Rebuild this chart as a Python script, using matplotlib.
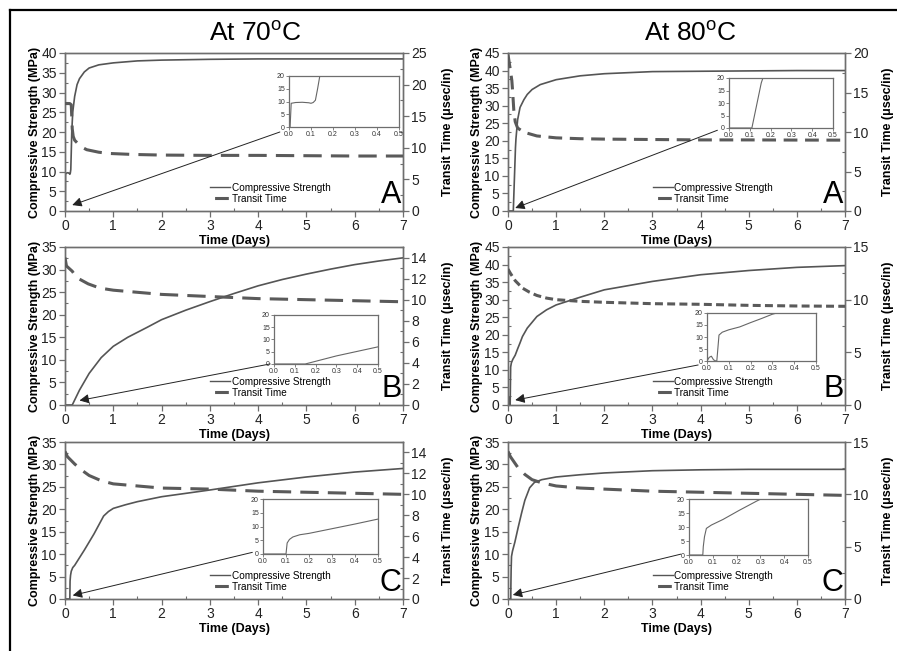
import matplotlib
matplotlib.use("Agg")
import matplotlib.pyplot as plt
from matplotlib.lines import Line2D
from matplotlib.ticker import MultipleLocator, FormatStrFormatter

plt.rcParams['font.family'] = ['Liberation Sans', 'DejaVu Sans']
plt.rcParams['mathtext.fontset'] = 'custom'
plt.rcParams['mathtext.rm'] = 'Liberation Sans'

# ---------------- data ----------------
titles = ["At 70$^{\\rm o}$C", "At 80$^{\\rm o}$C"]
letters = ["A", "B", "C"]
legend_labels = ["Compressive Strength", "Transit Time"]
xlabel = "Time (Days)"
ylabel_left = "Compressive Strength (MPa)"
ylabel_right = "Transit Time (\u03bcsec/in)"

# 70C - A
t_cs_70A = [0, 0.005, 0.01, 0.03, 0.06, 0.09, 0.1, 0.11, 0.12, 0.13, 0.14, 0.16, 0.2, 0.25, 0.3,
            0.4, 0.5, 0.7, 1.0, 1.5, 2, 3, 4, 5, 6, 7]
cs_70A = [0, 0, 9.3, 9.6, 9.7, 9.5, 9.3, 9.6, 10.5, 15, 20, 25, 29, 32, 33.5,
          35.2, 36.2, 37.0, 37.5, 38.0, 38.2, 38.4, 38.5, 38.5, 38.5, 38.5]
t_tt_70A = [0, 0.05, 0.1, 0.13, 0.15, 0.17, 0.2, 0.25, 0.35, 0.45, 0.7, 0.93, 1.4, 2, 3, 4, 5, 6, 7]
tt_70A = [17.0, 17.0, 17.0, 16.8, 13.0, 11.8, 11.2, 10.8, 10.1, 9.7, 9.3, 9.1, 8.95, 8.85, 8.8, 8.8, 8.75, 8.7, 8.7]

# 80C - A
t_cs_80A = [0, 0.11, 0.115, 0.13, 0.145, 0.155, 0.165, 0.2, 0.25, 0.33, 0.4, 0.5, 0.67, 1.0, 1.5,
            2, 3, 4, 5, 6, 7]
cs_80A = [0, 0, 2, 8, 14, 18, 20.5, 26, 29.5, 31.7, 33.2, 34.6, 36.0, 37.4, 38.5,
          39.1, 39.7, 39.8, 39.9, 40.0, 40.0]
t_tt_80A = [0, 0.02, 0.05, 0.08, 0.1, 0.12, 0.15, 0.2, 0.3, 0.4, 0.6, 1, 1.5, 2, 3, 4, 5, 6, 7]
tt_80A = [19.8, 19.0, 17.8, 16.5, 14.8, 12.8, 11.3, 10.5, 10.1, 9.85, 9.5, 9.26, 9.15, 9.1, 9.05, 9.0, 9.0, 8.98, 8.97]

# 70C - B
t_cs_70B = [0, 0.15, 0.3, 0.5, 0.75, 1, 1.3, 1.7, 2, 2.5, 3, 3.5, 4, 4.5, 5, 5.5, 6, 6.5, 7]
cs_70B = [0, 0, 3.3, 7.0, 10.5, 13, 15, 17.2, 18.9, 21, 22.9, 24.7, 26.4, 27.8, 29.0, 30.1, 31.1, 31.9, 32.6]
t_tt_70B = [0, 0.03, 0.15, 0.24, 0.48, 0.72, 1, 1.5, 2, 3, 4, 5, 6, 7]
tt_70B = [14.0, 13.2, 12.7, 12.1, 11.5, 11.1, 10.9, 10.7, 10.5, 10.3, 10.1, 10.0, 9.9, 9.8]

# 80C - B
t_cs_80B = [0, 0.01, 0.02, 0.03, 0.04, 0.045, 0.055, 0.07, 0.1, 0.15, 0.2, 0.25, 0.3, 0.4, 0.6, 0.8,
            1, 1.5, 2, 3, 4, 5, 6, 7]
cs_80B = [0, 1.5, 2, 0.5, 0, 0, 10.8, 12, 13, 14.2, 16, 17.7, 19.5, 21.9, 25.2, 27.1,
          28.5, 30.7, 32.8, 35.2, 37.1, 38.3, 39.2, 39.7]
t_tt_80B = [0, 0.05, 0.15, 0.3, 0.45, 0.6, 0.8, 1, 1.5, 2, 3, 4, 5, 6, 7]
tt_80B = [12.9, 12.5, 11.8, 11.1, 10.7, 10.4, 10.15, 10.0, 9.84, 9.75, 9.62, 9.56, 9.46, 9.4, 9.37]

# 70C - C
t_cs_70C = [0, 0.1, 0.105, 0.115, 0.13, 0.16, 0.2, 0.3, 0.4, 0.5, 0.6, 0.7, 0.8, 0.9, 1.0, 1.25,
            1.5, 2, 3, 4, 5, 6, 7]
cs_70C = [0, 0, 4, 5.3, 6.2, 7, 7.5, 9.2, 10.9, 12.7, 14.5, 16.5, 18.5, 19.5, 20.2, 21.0,
          21.7, 22.8, 24.3, 25.9, 27.2, 28.3, 29.1]
t_tt_70C = [0, 0.05, 0.2, 0.35, 0.5, 0.75, 1, 1.5, 2, 3, 4, 5, 6, 7]
tt_70C = [14.1, 13.6, 12.9, 12.3, 11.8, 11.3, 11.0, 10.8, 10.6, 10.5, 10.3, 10.2, 10.1, 10.0]

# 80C - C
t_cs_80C = [0, 0.058, 0.06, 0.065, 0.073, 0.094, 0.143, 0.21, 0.283, 0.35, 0.45, 0.55, 0.7, 1,
            1.5, 2, 3, 4, 5, 6, 7]
cs_80C = [0, 0, 3, 6.5, 9.5, 10.7, 12.7, 15.9, 19.2, 22, 24.8, 26.0, 26.6, 27.2,
          27.7, 28.1, 28.6, 28.8, 28.9, 28.9, 28.9]
t_tt_80C = [0, 0.05, 0.2, 0.35, 0.5, 0.7, 1, 1.5, 2, 3, 4, 5, 6, 7]
tt_80C = [14.1, 13.6, 12.6, 11.9, 11.4, 11.1, 10.8, 10.6, 10.5, 10.3, 10.2, 10.1, 10.0, 9.9]

# ---------------- style ----------------
W, H = 897, 651
CS_COLOR = '#555555'
TT_COLOR = '#5a5a5a'
SPINE = '#6e6e6e'


def fr(x0, y0, x1, y1):
    """pixel box -> figure fraction rect"""
    return [x0 / W, 1 - y1 / H, (x1 - x0) / W, (y1 - y0) / H]


fig = plt.figure(figsize=(W / 100, H / 100), dpi=100)

panels = [
    dict(rect=fr(65, 53, 403, 211), inset=fr(289, 76, 399, 127),
         tc=t_cs_70A, cs=cs_70A, tt_t=t_tt_70A, tt=tt_70A,
         yl=(0, 40), yr=(0, 25), yr_major=5, yr_minor=2.5, letter=letters[0],
         head=(0.15, 1.5), tail=(4.45, 20.0), dashes=(6, 3), ll=-0.072, rl=1.115),
    dict(rect=fr(508, 53, 845, 211), inset=fr(729, 78, 833, 128),
         tc=t_cs_80A, cs=cs_80A, tt_t=t_tt_80A, tt=tt_80A,
         yl=(0, 45), yr=(0, 20), yr_major=5, yr_minor=2.5, letter=letters[0],
         head=(0.15, 0.85), tail=(4.35, 23.0), dashes=(4.5, 2.5), ll=-0.074, rl=1.11),
    dict(rect=fr(65, 247, 403, 405), inset=fr(274, 315, 378, 364),
         tc=t_cs_70B, cs=cs_70B, tt_t=t_tt_70B, tt=tt_70B,
         yl=(0, 35), yr=(0, 15), yr_major=2, yr_minor=1, letter=letters[1],
         head=(0.3, 1.0), tail=(4.25, 9.1), dashes=(6, 3), ll=-0.072, rl=1.115),
    dict(rect=fr(508, 247, 845, 405), inset=fr(707, 313, 816, 361),
         tc=t_cs_80B, cs=cs_80B, tt_t=t_tt_80B, tt=tt_80B,
         yl=(0, 45), yr=(0, 15), yr_major=5, yr_minor=2.5, letter=letters[1],
         head=(0.15, 1.4), tail=(3.95, 11.4), dashes=(2.6, 1.4), ll=-0.074, rl=1.11),
    dict(rect=fr(65, 442, 403, 599), inset=fr(263, 499, 378, 554),
         tc=t_cs_70C, cs=cs_70C, tt_t=t_tt_70C, tt=tt_70C,
         yl=(0, 35), yr=(0, 15), yr_major=2, yr_minor=1, letter=letters[2],
         head=(0.16, 0.8), tail=(3.88, 10.4), dashes=(6, 3), ll=-0.072, rl=1.115),
    dict(rect=fr(508, 442, 845, 599), inset=fr(689, 499, 808, 555),
         tc=t_cs_80C, cs=cs_80C, tt_t=t_tt_80C, tt=tt_80C,
         yl=(0, 35), yr=(0, 15), yr_major=5, yr_minor=2.5, letter=letters[2],
         head=(0.1, 0.9), tail=(3.59, 10.0), dashes=(6, 3), ll=-0.074, rl=1.11),
]


def style_ticks(ax):
    ax.tick_params(axis='both', which='major', direction='out', length=4, width=0.9,
                   color=SPINE, labelsize=10, labelcolor='#222222', pad=2)
    ax.tick_params(axis='both', which='minor', direction='in', length=2.5, width=0.8,
                   color=SPINE)
    for s in ax.spines.values():
        s.set_color(SPINE)
        s.set_linewidth(1.0)


for p in panels:
    ax = fig.add_axes(p['rect'])
    ax.plot(p['tc'], p['cs'], color=CS_COLOR, lw=1.2, zorder=3)
    ax.set_xlim(0, 7)
    ax.set_ylim(*p['yl'])
    ax.xaxis.set_major_locator(MultipleLocator(1))
    ax.xaxis.set_minor_locator(MultipleLocator(0.5))
    ax.yaxis.set_major_locator(MultipleLocator(5))
    ax.yaxis.set_minor_locator(MultipleLocator(2.5))
    style_ticks(ax)
    ax.set_xlabel(xlabel, fontsize=9, fontweight='bold', labelpad=1)
    ax.set_ylabel(ylabel_left, fontsize=9, fontweight='bold')
    ax.yaxis.set_label_coords(p['ll'], 0.5)

    ax2 = ax.twinx()
    ax2.plot(p['tt_t'], p['tt'], color=TT_COLOR, lw=2.2, dashes=p['dashes'], zorder=3)
    ax2.set_ylim(*p['yr'])
    ax2.yaxis.set_major_locator(MultipleLocator(p['yr_major']))
    ax2.yaxis.set_minor_locator(MultipleLocator(p['yr_minor']))
    style_ticks(ax2)
    ax2.set_ylabel(ylabel_right, fontsize=9, fontweight='bold')
    ax2.yaxis.set_label_coords(p['rl'], 0.5)

    ax2.annotate('', xy=ax.transData.transform(p['head']), xycoords='figure pixels',
                 xytext=ax.transData.transform(p['tail']), textcoords='figure pixels',
                 arrowprops=dict(arrowstyle='-|>', color='#222222', lw=0.7,
                                 mutation_scale=14, shrinkA=0, shrinkB=0))

    handles = [Line2D([], [], color=CS_COLOR, lw=1.0),
               Line2D([], [], color=TT_COLOR, lw=2.2, dashes=(0, 1.5, 4.5, 10),
                      dash_capstyle='butt')]
    ax2.legend(handles, legend_labels, loc='upper left', bbox_to_anchor=(0.43, 0.18),
               frameon=False, fontsize=7.2, handlelength=2.0, handletextpad=0.15,
               labelspacing=0.1, borderpad=0, borderaxespad=0)

    ax2.text(0.995, 0.05, p['letter'], transform=ax2.transAxes, ha='right', va='baseline',
             fontsize=22, color='black')

    ins = fig.add_axes(p['inset'])
    ins.plot(p['tc'], p['cs'], color='#666666', lw=0.8)
    ins.set_xlim(0, 0.5)
    ins.set_ylim(0, 20)
    ins.xaxis.set_major_locator(MultipleLocator(0.1))
    ins.xaxis.set_major_formatter(FormatStrFormatter('%.1f'))
    ins.yaxis.set_major_locator(MultipleLocator(5))
    ins.tick_params(axis='both', which='major', direction='out', length=2, width=0.6,
                    color=SPINE, labelsize=5, labelcolor='#333333', pad=1)
    for s in ins.spines.values():
        s.set_color(SPINE)
        s.set_linewidth(0.9)

fig.text(255 / W, 1 - 33 / H, titles[0], ha='center', va='center', fontsize=19)
fig.text(690 / W, 1 - 33 / H, titles[1], ha='center', va='center', fontsize=19)

# partial frame (top and left edges)
fig.add_artist(Line2D([10 / W, 1], [1 - 10 / H, 1 - 10 / H], transform=fig.transFigure,
                      color='black', lw=1.6))
fig.add_artist(Line2D([10 / W, 10 / W], [0, 1 - 10 / H], transform=fig.transFigure,
                      color='black', lw=1.6))

fig.savefig('out.png', dpi=100)
